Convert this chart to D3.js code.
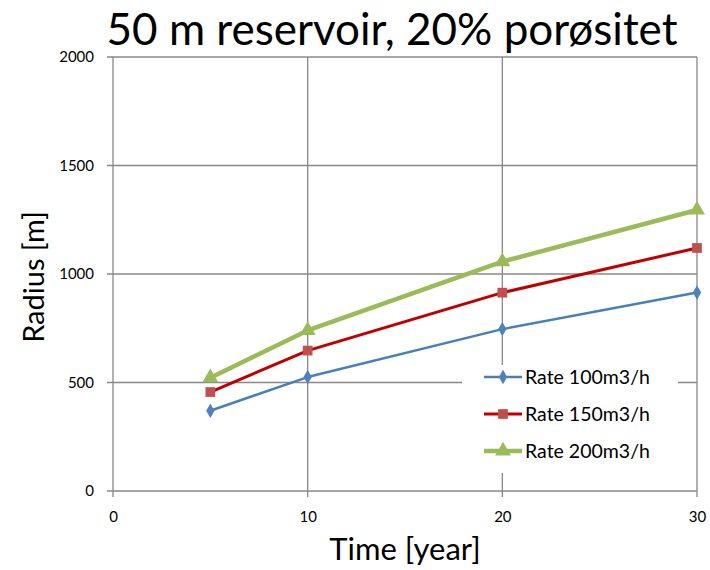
<!DOCTYPE html>
<html><head><meta charset="utf-8">
<script src="https://cdn.jsdelivr.net/npm/d3@7"></script>
<style>body{margin:0;background:#fff;} svg{display:block;font-family:Lato,"Open Sans",sans-serif;}</style>
</head><body>
<svg id="c" width="710" height="570"></svg>
<script>
const years = [5, 10, 20, 30];
const rate100 = [370, 525, 746, 915];
const rate150 = [456, 647, 914, 1120];
const rate200 = [522, 740, 1057, 1295];
const seriesNames = ["Rate 100m3/h", "Rate 150m3/h", "Rate 200m3/h"];
const xTicks = [0, 10, 20, 30];
const yTicks = [0, 500, 1000, 1500, 2000];

const svg = d3.select("#c");
const x = d3.scaleLinear().domain([0, 30]).range([113, 697]);
const y = d3.scaleLinear().domain([0, 2000]).range([491, 57]);
const grid = "#888888";

// gridlines
svg.append("g").selectAll("line").data(yTicks).join("line")
  .attr("x1", 107).attr("x2", 697).attr("y1", d => y(d)).attr("y2", d => y(d))
  .attr("stroke", grid).attr("stroke-width", 1.3);
svg.append("g").selectAll("line").data(xTicks).join("line")
  .attr("x1", d => x(d)).attr("x2", d => x(d)).attr("y1", 57).attr("y2", 497)
  .attr("stroke", grid).attr("stroke-width", 1.3);

// axes labels
const yAxis = d3.axisLeft(y).tickValues(yTicks).tickFormat(d3.format("d")).tickSize(0).tickPadding(19);
const gy = svg.append("g").attr("transform", "translate(113,0)").call(yAxis);
gy.select(".domain").remove();
gy.selectAll("text").attr("font-size", 15).attr("fill", "#000").attr("font-family", "Lato,sans-serif");
const xAxis = d3.axisBottom(x).tickValues(xTicks).tickFormat(d3.format("d")).tickSize(0).tickPadding(20);
const gx = svg.append("g").attr("transform", "translate(0,491)").call(xAxis);
gx.select(".domain").remove();
gx.selectAll("text").attr("font-size", 15).attr("fill", "#000").attr("font-family", "Lato,sans-serif");

const series = [
  {name: seriesNames[0], vals: rate100, line: "#4A7EBB", mark: "#4F81BD", w: 2.5, sym: d3.symbolDiamond, size: 60},
  {name: seriesNames[1], vals: rate150, line: "#C00000", mark: "#C0504D", w: 3, sym: d3.symbolSquare, size: 95},
  {name: seriesNames[2], vals: rate200, line: "#9BBB59", mark: "#9BBB59", w: 4.5, sym: d3.symbolTriangle, size: 110}
];

const line = d3.line().x(d => x(d[0])).y(d => y(d[1]));
series.forEach(s => {
  const pts = years.map((t, i) => [t, s.vals[i]]);
  svg.append("path").attr("d", line(pts)).attr("fill", "none")
    .attr("stroke", s.line).attr("stroke-width", s.w).attr("stroke-linejoin", "round");
  svg.append("g").selectAll("path").data(pts).join("path")
    .attr("transform", d => `translate(${x(d[0])},${y(d[1])})`)
    .attr("d", d3.symbol().type(s.sym).size(s.size)).attr("fill", s.mark);
});

// legend
svg.append("rect").attr("x", 462).attr("y", 365).attr("width", 216).attr("height", 108).attr("fill", "#fff");
series.forEach((s, i) => {
  const ly = 377 + i * 37;
  svg.append("line").attr("x1", 484).attr("x2", 522).attr("y1", ly).attr("y2", ly)
    .attr("stroke", s.line).attr("stroke-width", s.w);
  svg.append("path").attr("transform", `translate(503,${ly})`)
    .attr("d", d3.symbol().type(s.sym).size(s.size)).attr("fill", s.mark);
  svg.append("text").attr("x", 525).attr("y", ly + 7).attr("font-size", 19.5).text(s.name);
});

// titles
svg.append("text").attr("x", 392).attr("y", 45).attr("text-anchor", "middle")
  .attr("font-size", 44).text("50 m reservoir, 20% porøsitet");
svg.append("text").attr("x", 405).attr("y", 560).attr("text-anchor", "middle")
  .attr("font-size", 31).text("Time [year]");
svg.append("text").attr("transform", "translate(44,277) rotate(-90)").attr("text-anchor", "middle")
  .attr("font-size", 29).text("Radius [m]");
</script>
</body></html>
